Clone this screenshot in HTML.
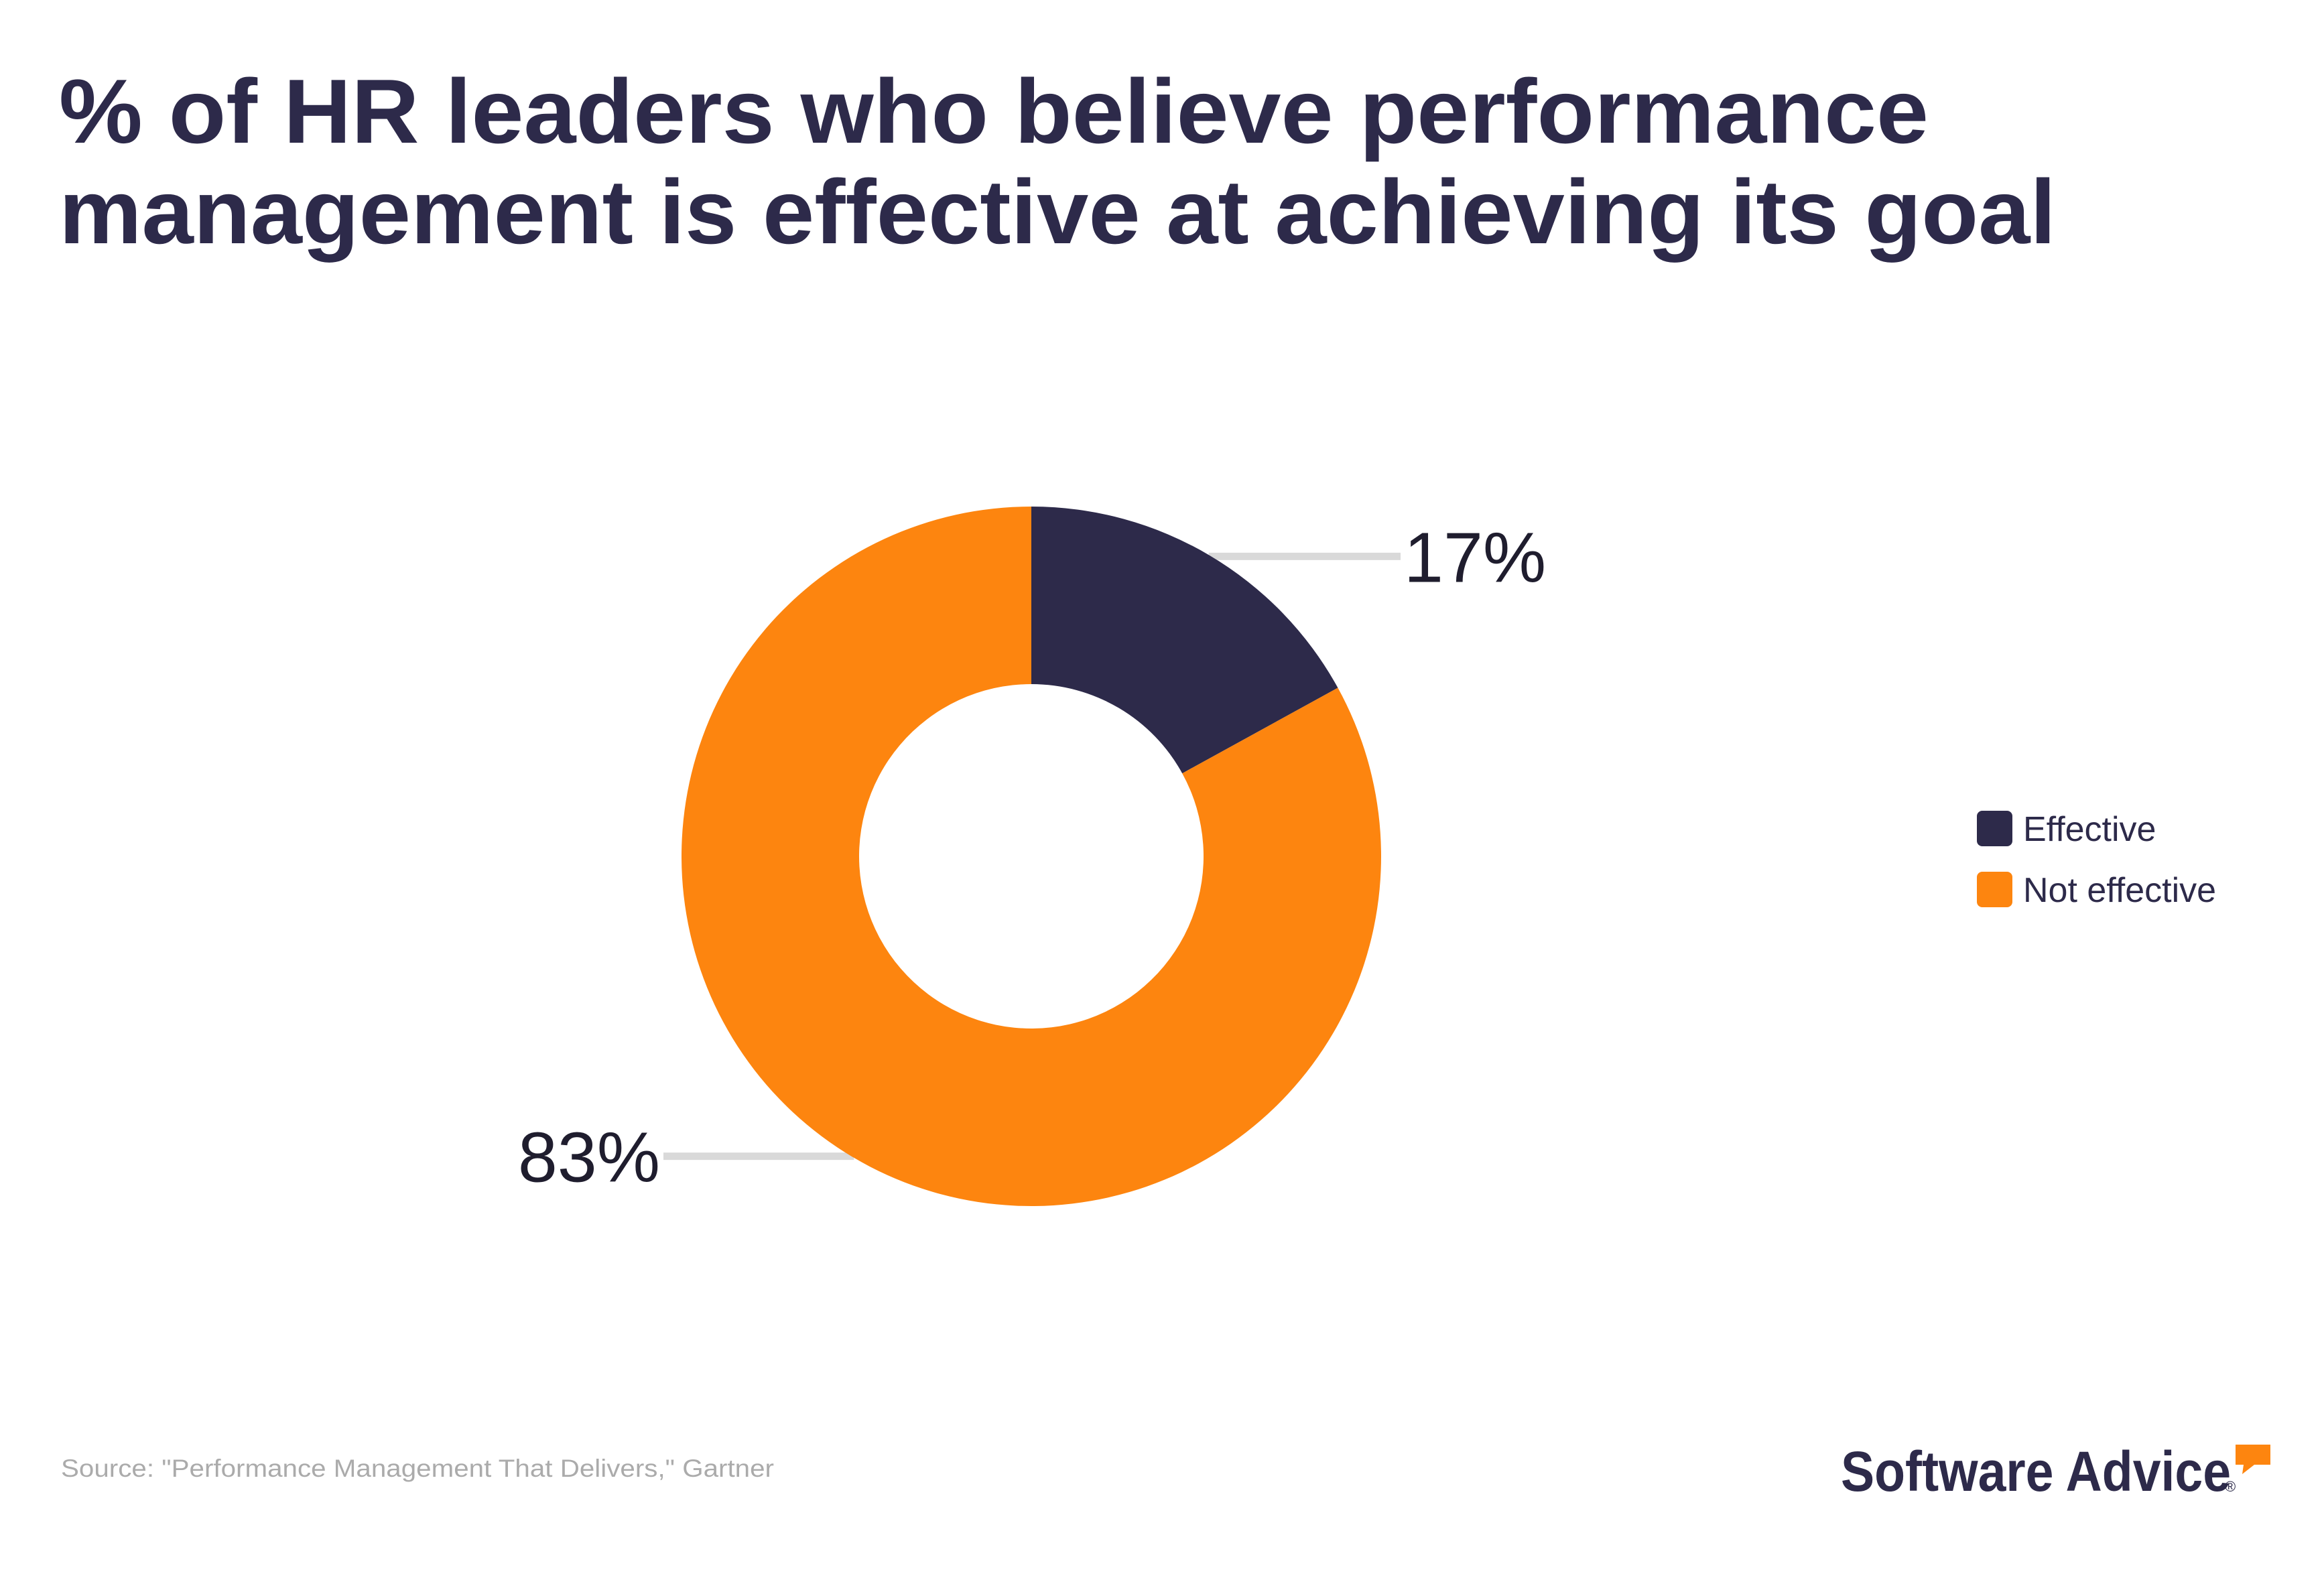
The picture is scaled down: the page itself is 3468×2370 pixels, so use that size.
<!DOCTYPE html>
<html><head><meta charset="utf-8"><style>
html,body{margin:0;padding:0;background:#fff;}
svg{display:block;font-family:"Liberation Sans",sans-serif;}
</style></head><body>
<svg id="chart" width="3468" height="2370" viewBox="0 0 3468 2370">
<text x="88" y="213" font-size="136" font-weight="bold" fill="#2d2a4a" textLength="2790" lengthAdjust="spacingAndGlyphs">% of HR leaders who believe performance</text>
<text x="88" y="363" font-size="136" font-weight="bold" fill="#2d2a4a" textLength="2980" lengthAdjust="spacingAndGlyphs">management is effective at achieving its goal</text>
<g id="labels"></g>
<g id="donut"></g>
<g id="valuetext"></g>
<g id="legend"></g>
<text x="91" y="2204" font-size="37" fill="#ababab" textLength="1064" lengthAdjust="spacingAndGlyphs">Source: "Performance Management That Delivers," Gartner</text>
<text x="2747" y="2225" font-size="84" font-weight="bold" fill="#2d2a4a" textLength="582" lengthAdjust="spacingAndGlyphs">Software Advice</text>
<text x="3320" y="2226" font-size="22" fill="#2d2a4a">®</text>
<path d="M3336 2156 h52 v30 h-24 l-18 14 l2 -14 h-12 z" fill="#fd850f"/>
</svg>
<script>
const categories = ["Effective", "Not effective"];
const values = [17, 83];
const valueLabels = ["17%", "83%"];
const colors = ["#2d2a4a", "#fd850f"];
const NS = "http://www.w3.org/2000/svg";
const cx = 1539, cy = 1278, R = 522, r = 257;
const total = values.reduce((a, b) => a + b, 0);
const angle = v => v / total * Math.PI * 2;
function pt(a, rad) { return [cx + rad * Math.sin(a), cy - rad * Math.cos(a)]; }
const donut = document.getElementById("donut");
const labels = document.getElementById("labels");
const valuetext = document.getElementById("valuetext");
let start = 0;
values.forEach((v, i) => {
  const end = start + angle(v);
  const large = end - start > Math.PI ? 1 : 0;
  const [x1, y1] = pt(start, R), [x2, y2] = pt(end, R), [x3, y3] = pt(end, r), [x4, y4] = pt(start, r);
  const p = document.createElementNS(NS, "path");
  p.setAttribute("d", `M${x1} ${y1} A${R} ${R} 0 ${large} 1 ${x2} ${y2} L${x3} ${y3} A${r} ${r} 0 ${large} 0 ${x4} ${y4} Z`);
  p.setAttribute("fill", colors[i]);
  
  
  donut.appendChild(p);
  const mid = (start + end) / 2;
  const [mx, my] = pt(mid, R - 2);
  const right = Math.sin(mid) >= 0;
  const lx = right ? 2090 : 990;
  const ln = document.createElementNS(NS, "line");
  ln.setAttribute("x1", mx); ln.setAttribute("y1", my);
  ln.setAttribute("x2", lx); ln.setAttribute("y2", my);
  ln.setAttribute("stroke", "#d9d9d9"); ln.setAttribute("stroke-width", "11");
  
  
  labels.appendChild(ln);
  const t = document.createElementNS(NS, "text");
  t.setAttribute("x", right ? lx + 5 : lx - 5);
  t.setAttribute("y", my + 38);
  t.setAttribute("text-anchor", right ? "start" : "end");
  t.setAttribute("font-size", "106");
  t.setAttribute("fill", "#1f1d2e");
  t.textContent = valueLabels[i];
  
  
  valuetext.appendChild(t);
  start = end;
});
const legend = document.getElementById("legend");
categories.forEach((c, i) => {
  const y = 1210 + i * 91;
  const s = document.createElementNS(NS, "rect");
  s.setAttribute("x", 2950); s.setAttribute("y", y); s.setAttribute("width", 53); s.setAttribute("height", 53);
  s.setAttribute("rx", 8); s.setAttribute("fill", colors[i]);
  
  
  legend.appendChild(s);
  const t = document.createElementNS(NS, "text");
  t.setAttribute("x", 3019); t.setAttribute("y", y + 45);
  t.setAttribute("font-size", "52"); t.setAttribute("fill", "#2d2a4a");
  t.textContent = c;
  
  
  legend.appendChild(t);
});
</script>
</body></html>
